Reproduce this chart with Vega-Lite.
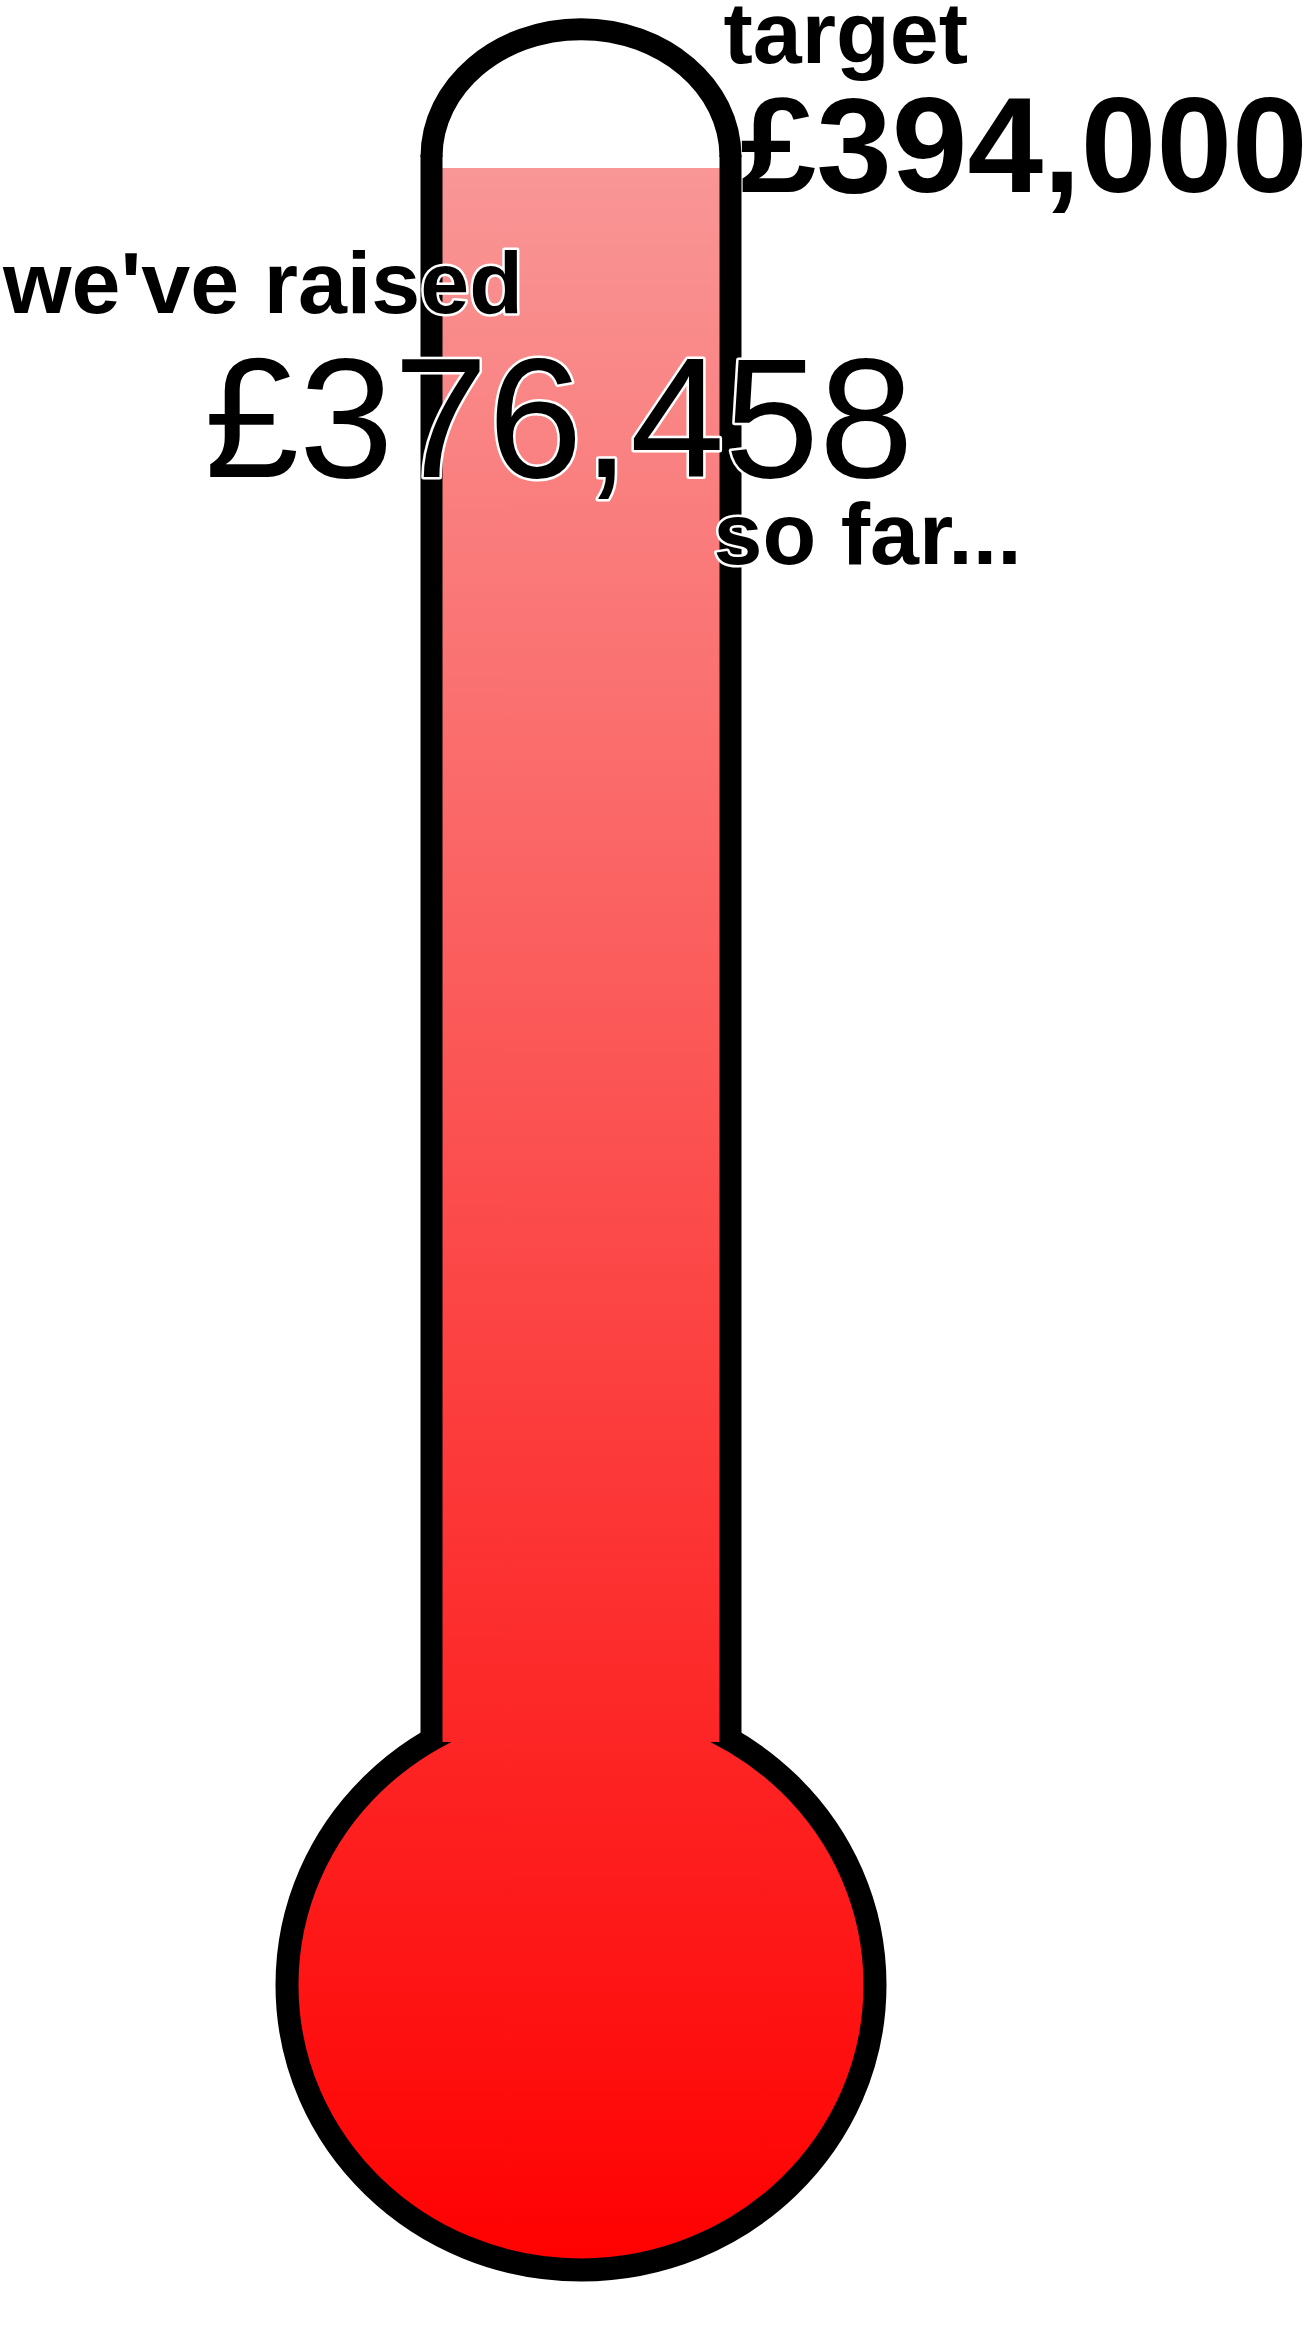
{
  "$schema": "https://vega.github.io/schema/vega-lite/v6.json",
  "width": 1304,
  "height": 2348,
  "autosize": "none",
  "padding": 0,
  "background": "white",
  "config": {
    "view": {"stroke": null},
    "locale": {"number": {"decimal": ".", "thousands": ",", "grouping": [3], "currency": ["£", ""]}}
  },
  "data": {"values": [
    {"label": "target", "amount": 394000},
    {"label": "raised", "amount": 376458}
  ]},
  "layer": [
    {
      "transform": [{"filter": "datum.label === 'target'"}],
      "mark": {
        "type": "point",
        "shape": "M 1 0 C 1 0.5352 0.5523 0.969 0 0.969 C -0.5523 0.969 -1 0.5352 -1 0 C -1 -0.5352 -0.5523 -0.969 0 -0.969 C 0.5523 -0.969 1 -0.5352 1 0 Z",
        "size": 345744,
        "filled": true,
        "opacity": 1,
        "fillOpacity": 1,
        "strokeOpacity": 1,
        "fill": {"gradient": "linear", "x1": 0, "y1": 0, "x2": 0, "y2": 1, "stops": [{"offset": 0, "color": "#fd2828"}, {"offset": 1, "color": "#ff0000"}]},
        "stroke": "black",
        "strokeWidth": 23
      },
      "encoding": {
        "x": {"datum": 0, "type": "quantitative", "scale": {"domain": [-3.8863, 4.8361], "nice": false, "zero": false}, "axis": null},
        "y": {"datum": -58119, "type": "quantitative", "scale": {"domain": [-144939, 416639], "nice": false, "zero": false}, "axis": null}
      }
    },
    {
      "transform": [{"filter": "datum.label === 'raised'"}],
      "mark": {
        "type": "rect",
        "fill": {"gradient": "linear", "x1": 0, "y1": 0, "x2": 0, "y2": 1, "stops": [{"offset": 0, "color": "#f99696"}, {"offset": 1, "color": "#fd2525"}]}
      },
      "encoding": {
        "x": {"datum": -0.95, "type": "quantitative", "scale": {"domain": [-3.8863, 4.8361], "nice": false, "zero": false}, "axis": null},
        "x2": {"datum": 0.95},
        "y": {"field": "amount", "type": "quantitative", "scale": {"domain": [-144939, 416639], "nice": false, "zero": false}, "axis": null},
        "y2": {"datum": 0}
      }
    },
    {
      "transform": [{"filter": "datum.label === 'target'"}],
      "mark": {"type": "rule", "stroke": "black", "strokeWidth": 22, "strokeCap": "butt"},
      "encoding": {
        "x": {"datum": -1, "type": "quantitative", "scale": {"domain": [-3.8863, 4.8361], "nice": false, "zero": false}, "axis": null},
        "y": {"datum": 379600, "type": "quantitative", "scale": {"domain": [-144939, 416639], "nice": false, "zero": false}, "axis": null},
        "y2": {"datum": 0}
      }
    },
    {
      "transform": [{"filter": "datum.label === 'target'"}],
      "mark": {"type": "rule", "stroke": "black", "strokeWidth": 22, "strokeCap": "butt"},
      "encoding": {
        "x": {"datum": 1, "type": "quantitative", "scale": {"domain": [-3.8863, 4.8361], "nice": false, "zero": false}, "axis": null},
        "y": {"datum": 379600, "type": "quantitative", "scale": {"domain": [-144939, 416639], "nice": false, "zero": false}, "axis": null},
        "y2": {"datum": 0}
      }
    },
    {
      "transform": [{"filter": "datum.label === 'target'"}],
      "mark": {
        "type": "point",
        "shape": "M -1 0 C -1 -0.47 -0.5523 -0.855 0 -0.855 C 0.5523 -0.855 1 -0.47 1 0",
        "size": 89401,
        "filled": false,
        "opacity": 1,
        "strokeOpacity": 1,
        "stroke": "black",
        "strokeWidth": 22
      },
      "encoding": {
        "x": {"datum": 0, "type": "quantitative", "scale": {"domain": [-3.8863, 4.8361], "nice": false, "zero": false}, "axis": null},
        "y": {"datum": 379089, "type": "quantitative", "scale": {"domain": [-144939, 416639], "nice": false, "zero": false}, "axis": null}
      }
    },
    {
      "transform": [{"filter": "datum.label === 'target'"}],
      "mark": {"type": "text", "text": "target", "font": "Liberation Sans", "fontWeight": "bold", "fontSize": 88, "align": "left", "baseline": "alphabetic", "dx": -7, "dy": -32, "fill": "black"},
      "encoding": {
        "x": {"datum": 1, "type": "quantitative", "scale": {"domain": [-3.8863, 4.8361], "nice": false, "zero": false}, "axis": null},
        "y": {"field": "amount", "type": "quantitative", "scale": {"domain": [-144939, 416639], "nice": false, "zero": false}, "axis": null}
      }
    },
    {
      "transform": [{"filter": "datum.label === 'target'"}],
      "mark": {"type": "text", "font": "Liberation Sans", "fontWeight": "bold", "fontSize": 136, "align": "left", "baseline": "alphabetic", "dx": 10, "dy": 97, "fill": "black"},
      "encoding": {
        "x": {"datum": 1, "type": "quantitative", "scale": {"domain": [-3.8863, 4.8361], "nice": false, "zero": false}, "axis": null},
        "y": {"field": "amount", "type": "quantitative", "scale": {"domain": [-144939, 416639], "nice": false, "zero": false}, "axis": null},
        "text": {"field": "amount", "type": "quantitative", "format": "$,.0f"}
      }
    },
    {
      "transform": [{"filter": "datum.label === 'raised'"}],
      "mark": {"type": "text", "text": "we've raised", "font": "Liberation Sans", "fontWeight": "bold", "fontSize": 88, "align": "left", "baseline": "alphabetic", "dx": 3, "dy": 145, "fill": "white", "stroke": "white", "strokeWidth": 5, "strokeJoin": "round"},
      "encoding": {
        "x": {"datum": -3.8863, "type": "quantitative", "scale": {"domain": [-3.8863, 4.8361], "nice": false, "zero": false}, "axis": null},
        "y": {"field": "amount", "type": "quantitative", "scale": {"domain": [-144939, 416639], "nice": false, "zero": false}, "axis": null}
      }
    },
    {
      "transform": [{"filter": "datum.label === 'raised'"}],
      "mark": {"type": "text", "text": "we've raised", "font": "Liberation Sans", "fontWeight": "bold", "fontSize": 88, "align": "left", "baseline": "alphabetic", "dx": 3, "dy": 145, "fill": "black"},
      "encoding": {
        "x": {"datum": -3.8863, "type": "quantitative", "scale": {"domain": [-3.8863, 4.8361], "nice": false, "zero": false}, "axis": null},
        "y": {"field": "amount", "type": "quantitative", "scale": {"domain": [-144939, 416639], "nice": false, "zero": false}, "axis": null}
      }
    },
    {
      "transform": [{"filter": "datum.label === 'raised'"}],
      "mark": {"type": "text", "font": "Liberation Sans", "fontWeight": "normal", "fontSize": 170, "align": "center", "baseline": "alphabetic", "dx": -22, "dy": 309, "fill": "white", "stroke": "white", "strokeWidth": 5, "strokeJoin": "round"},
      "encoding": {
        "x": {"datum": 0, "type": "quantitative", "scale": {"domain": [-3.8863, 4.8361], "nice": false, "zero": false}, "axis": null},
        "y": {"field": "amount", "type": "quantitative", "scale": {"domain": [-144939, 416639], "nice": false, "zero": false}, "axis": null},
        "text": {"field": "amount", "type": "quantitative", "format": "$,.0f"}
      }
    },
    {
      "transform": [{"filter": "datum.label === 'raised'"}],
      "mark": {"type": "text", "font": "Liberation Sans", "fontWeight": "normal", "fontSize": 170, "align": "center", "baseline": "alphabetic", "dx": -22, "dy": 309, "fill": "black"},
      "encoding": {
        "x": {"datum": 0, "type": "quantitative", "scale": {"domain": [-3.8863, 4.8361], "nice": false, "zero": false}, "axis": null},
        "y": {"field": "amount", "type": "quantitative", "scale": {"domain": [-144939, 416639], "nice": false, "zero": false}, "axis": null},
        "text": {"field": "amount", "type": "quantitative", "format": "$,.0f"}
      }
    },
    {
      "transform": [{"filter": "datum.label === 'raised'"}],
      "mark": {"type": "text", "text": "so far...", "font": "Liberation Sans", "fontWeight": "bold", "fontSize": 88, "align": "left", "baseline": "alphabetic", "dx": -17, "dy": 396, "fill": "white", "stroke": "white", "strokeWidth": 5, "strokeJoin": "round"},
      "encoding": {
        "x": {"datum": 1, "type": "quantitative", "scale": {"domain": [-3.8863, 4.8361], "nice": false, "zero": false}, "axis": null},
        "y": {"field": "amount", "type": "quantitative", "scale": {"domain": [-144939, 416639], "nice": false, "zero": false}, "axis": null}
      }
    },
    {
      "transform": [{"filter": "datum.label === 'raised'"}],
      "mark": {"type": "text", "text": "so far...", "font": "Liberation Sans", "fontWeight": "bold", "fontSize": 88, "align": "left", "baseline": "alphabetic", "dx": -17, "dy": 396, "fill": "black"},
      "encoding": {
        "x": {"datum": 1, "type": "quantitative", "scale": {"domain": [-3.8863, 4.8361], "nice": false, "zero": false}, "axis": null},
        "y": {"field": "amount", "type": "quantitative", "scale": {"domain": [-144939, 416639], "nice": false, "zero": false}, "axis": null}
      }
    }
  ]
}
